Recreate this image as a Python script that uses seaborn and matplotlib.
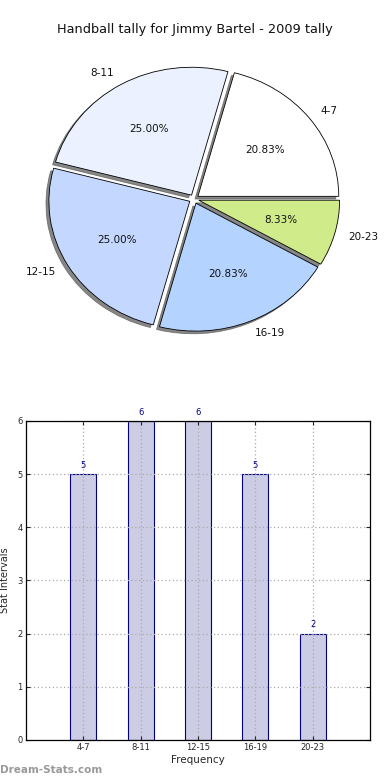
import pandas as pd
import matplotlib
matplotlib.use("Agg")
import matplotlib.pyplot as plt
import seaborn as sns

# data
intervals = ["4-7", "8-11", "12-15", "16-19", "20-23"]
counts = [5, 6, 6, 5, 2]
pie_colors = ["#FFFFFF", "#EBF1FF", "#C4D8FF", "#B4D4FF", "#CFEB8A"]

sns.set_style("white")
plt.rcParams['font.family'] = ['DejaVu Sans']

fig = plt.figure(figsize=(3.9, 7.8), dpi=100)

# --- pie (slightly squashed vertically, like the original) ---
ax1 = fig.add_axes([0.0641, 0.548, 0.8667, 0.3936])
ax1.pie(counts, labels=intervals, colors=pie_colors, autopct='%1.2f%%',
        startangle=0, counterclock=True, explode=[0.035] * len(counts),
        shadow={'ox': -0.015, 'oy': -0.015, 'color': '#555555', 'alpha': 0.7},
        labeldistance=1.1, pctdistance=0.6,
        wedgeprops={'edgecolor': 'black', 'linewidth': 0.6},
        textprops={'fontsize': 7.5, 'color': '#111111'})
ax1.set_aspect('auto')
ax1.set_xlim(-1.2, 1.2)
ax1.set_ylim(-1.2, 1.2)
ax1.axis('off')
fig.text(0.5, 1 - 30 / 780, "Handball tally for Jimmy Bartel - 2009 tally",
         ha='center', va='center', fontsize=9.3, color='#111111')

# --- bars ---
ax2 = fig.add_axes([0.0667, 0.0513, 0.882, 0.409])
df = pd.DataFrame({'interval': intervals, 'count': counts})
sns.barplot(data=df, x='interval', y='count', ax=ax2, color='#CCCCE5',
            width=0.45, edgecolor='#000080', linewidth=0.8, saturation=1)
for i, v in enumerate(counts):
    ax2.text(i, v + 0.08, str(v), ha='center', va='bottom',
             fontsize=6, color='#000080')
ax2.set_xlim(-1, 5)
ax2.set_ylim(0, 6)
ax2.set_yticks(range(0, 7))
ax2.set_axisbelow(False)
ax2.grid(True, linestyle=(0, (1, 2)), color='#aaaaaa', linewidth=0.9)
ax2.tick_params(axis='both', labelsize=6, direction='in', length=3,
                top=True, right=True, left=True, bottom=True, pad=2.5)
for sp in ax2.spines.values():
    sp.set_color('black')
    sp.set_linewidth(0.9)
    sp.set_zorder(5)
ax2.set_xlabel("Frequency", fontsize=7.5, labelpad=2)
ax2.set_ylabel("Stat Intervals", fontsize=7)
ax2.yaxis.set_label_coords(-0.047, 0.5)

fig.text(0.0, 1 - 770 / 780, "Dream-Stats.com", ha='left', va='center',
         fontsize=7.5, color='#999999', fontweight='bold')

fig.savefig("out.png", dpi=100)
